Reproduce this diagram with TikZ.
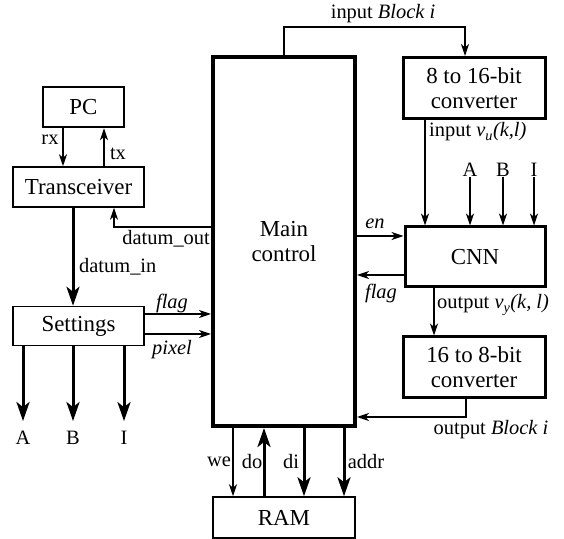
\documentclass[tikz,border=0pt]{standalone}
\usepackage{fontspec}
\setmainfont{Liberation Serif}
\usetikzlibrary{arrows.meta}

\begin{document}
\begin{tikzpicture}[>={Stealth[length=12bp,width=8bp,inset=3.5bp]},line join=miter,
  blk/.style={draw,rectangle,inner sep=0pt,align=center,font=\fontsize{23}{25}\selectfont},
  lbl/.style={inner sep=0pt,font=\fontsize{20.5}{23}\selectfont},
  sig/.style={->,line width=1.5bp},
  bus/.style={-{Stealth[length=19bp,width=13bp,inset=5bp]},line width=3bp}]
\useasboundingbox (0bp,0bp) rectangle (564bp,539bp);
%%
  \node (main) at (284bp,297.5bp) [blk,line width=4bp,minimum width=142bp,minimum height=369bp] {Main\\control};
  \node (PC) at (83.5bp,432bp) [blk,line width=2.5bp,minimum width=81bp,minimum height=40bp] {PC};
  \node (Trans) at (78.5bp,352bp) [blk,line width=1.5bp,minimum width=131bp,minimum height=40bp] {Transceiver};
  \node (Set) at (78.5bp,213bp) [blk,line width=1.5bp,minimum width=131bp,minimum height=39bp] {Settings};
  \node (Conv1) at (474bp,451bp) [blk,line width=3bp,minimum width=142bp,minimum height=61bp] {8 to 16-bit\\converter};
  \node (CNN) at (475bp,282bp) [blk,line width=3bp,minimum width=140bp,minimum height=60bp] {CNN};
  \node (Conv2) at (474bp,171.5bp) [blk,line width=3bp,minimum width=142bp,minimum height=61bp] {16 to 8-bit\\converter};
  \node (RAM) at (284bp,21.5bp) [blk,line width=1.5bp,minimum width=142bp,minimum height=41bp] {RAM};
%% labels
  \node (lrx) at (50bp,399bp) [lbl] {rx};
  \node (ltx) at (118bp,385bp) [lbl] {tx};
  \node (ldout) at (210bp,300bp) [lbl,anchor=east] {datum\_out};
  \node (ldin) at (79bp,272bp) [lbl,anchor=west] {datum\_in};
  \node (lflagL) at (172bp,236bp) [lbl] {\textit{flag}};
  \node (lpixel) at (172bp,189bp) [lbl] {\textit{pixel}};
  \node (lA) at (23bp,101bp) [lbl] {A};
  \node (lB) at (73bp,101bp) [lbl] {B};
  \node (lI) at (124bp,101bp) [lbl] {I};
  \node (linblk) at (383bp,525bp) [lbl] {input \textit{Block i}};
  \node (lvu) at (429bp,407bp) [lbl,anchor=west] {input \textit{v}\textsubscript{\textit{u}}\textit{(k,l)}};
  \node (lA2) at (470bp,369bp) [lbl] {A};
  \node (lB2) at (503bp,369bp) [lbl] {B};
  \node (lI2) at (534bp,369bp) [lbl] {I};
  \node (len) at (375bp,315bp) [lbl] {\textit{en}};
  \node (lflagR) at (381bp,246bp) [lbl] {\textit{flag}};
  \node (lvy) at (437bp,234bp) [lbl,anchor=west] {output \textit{v}\textsubscript{\textit{y}}\textit{(k, l)}};
  \node (loutblk) at (491bp,109bp) [lbl] {output \textit{Block i}};
  \node (lwe) at (219bp,77bp) [lbl] {we};
  \node (ldo) at (252bp,77bp) [lbl] {do};
  \node (ldi) at (291bp,77bp) [lbl] {di};
  \node (laddr) at (366bp,77bp) [lbl] {addr};
%% connectors
  \draw [sig] (PC.south -| 63bp,0) -- (Trans.north -| 63bp,0);
  \draw [sig] (Trans.north -| 104bp,0) -- (PC.south -| 104bp,0);
  \draw [sig] (main.west |- 0,312bp) -| (Trans.south -| 114bp,0);
  \draw [bus] (Trans.south -| 73bp,0) -- (Set.north -| 73bp,0);
  \draw [sig] (Set.east |- 0,225bp) -- (main.west |- 0,225bp);
  \draw [sig] (Set.east |- 0,205bp) -- (main.west |- 0,205bp);
  \draw [bus] (Set.south -| lA) -- ([yshift=10bp]lA.north);
  \draw [bus] (Set.south -| lB) -- ([yshift=10bp]lB.north);
  \draw [bus] (Set.south -| lI) -- ([yshift=10bp]lI.north);
  \draw [sig] (main.north) -- (main.north |- 0,512bp) -| (Conv1.north -| 465bp,0);
  \draw [sig] (Conv1.south -| 425bp,0) -- (CNN.north -| 425bp,0);
  \draw [sig] (lA2.south) -- (CNN.north -| lA2);
  \draw [sig] (lB2.south) -- (CNN.north -| lB2);
  \draw [sig] (lI2.south) -- (CNN.north -| lI2);
  \draw [sig] (main.east |- 0,303bp) -- (CNN.west |- 0,303bp);
  \draw [sig] (CNN.west |- 0,264bp) -- (main.east |- 0,264bp);
  \draw [sig] (CNN.south -| 434bp,0) -- (Conv2.north -| 434bp,0);
  \draw [sig] (Conv2.south -| 466bp,0) |- (main.east |- 0,122bp);
  \draw [sig] (main.south -| 233bp,0) -- (RAM.north -| 233bp,0);
  \draw [bus] (RAM.north -| 264bp,0) -- (main.south -| 264bp,0);
  \draw [bus] (main.south -| 304bp,0) -- (RAM.north -| 304bp,0);
  \draw [bus] (main.south -| 344bp,0) -- (RAM.north -| 344bp,0);
%
\end{tikzpicture}
\end{document}
